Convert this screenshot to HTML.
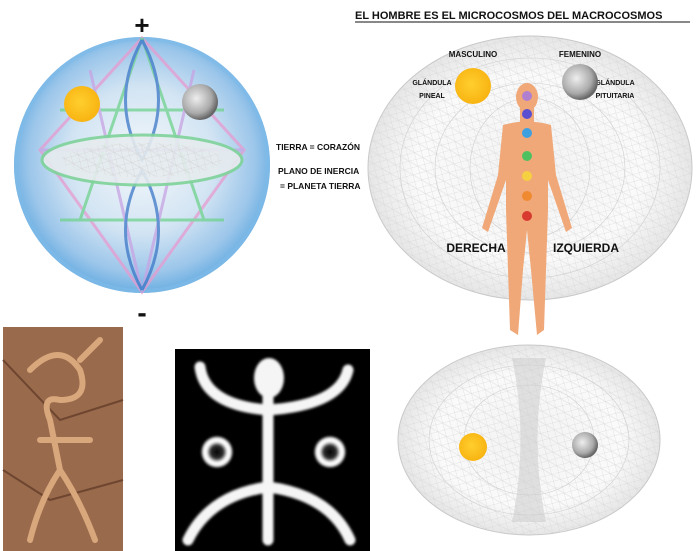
<!DOCTYPE html>
<html><head><meta charset="utf-8"><style>
body{margin:0;background:#fff;width:697px;height:551px;overflow:hidden;font-family:"Liberation Sans",sans-serif}
svg{display:block}
text{font-family:"Liberation Sans",sans-serif;font-weight:bold}
</style></head><body>
<svg width="697" height="551" viewBox="0 0 697 551">
<defs>
<radialGradient id="sph" cx="50%" cy="48%" r="52%">
<stop offset="0" stop-color="#f4f8fb"/><stop offset="0.55" stop-color="#d2e4f3"/><stop offset="0.85" stop-color="#9cc6ea"/><stop offset="1" stop-color="#6aaee2"/></radialGradient>
<radialGradient id="sun" cx="45%" cy="45%" r="55%"><stop offset="0" stop-color="#ffcf2e"/><stop offset="1" stop-color="#f8b412"/></radialGradient>
<radialGradient id="moon" cx="40%" cy="40%" r="60%"><stop offset="0" stop-color="#eee"/><stop offset="0.7" stop-color="#aaa"/><stop offset="1" stop-color="#666"/></radialGradient>
<radialGradient id="tor" cx="50%" cy="50%" r="50%"><stop offset="0" stop-color="#f2f2f2"/><stop offset="0.7" stop-color="#fafafa"/><stop offset="1" stop-color="#e6e6e6"/></radialGradient>
<radialGradient id="ring" cx="50%" cy="50%" r="50%"><stop offset="0" stop-color="#000"/><stop offset="0.45" stop-color="#333"/><stop offset="0.65" stop-color="#fff"/><stop offset="0.85" stop-color="#fff"/><stop offset="1" stop-color="#000"/></radialGradient>
<filter id="bl"><feGaussianBlur stdDeviation="1.2"/></filter>
<pattern id="mesh" width="10" height="10" patternUnits="userSpaceOnUse" patternTransform="rotate(30)">
<path d="M0 0 L10 10 M10 0 L0 10 M0 5 H10" stroke="#d4d4d4" stroke-width="0.5" fill="none"/></pattern>
</defs>
<text x="355" y="19" font-size="11" fill="#111">EL HOMBRE ES EL MICROCOSMOS DEL MACROCOSMOS</text>
<line x1="355" y1="22" x2="690" y2="22" stroke="#111" stroke-width="1"/>
<text x="142" y="34" font-size="26" text-anchor="middle" fill="#111">+</text>
<text x="142" y="322" font-size="28" text-anchor="middle" fill="#111">-</text>
<!-- left sphere -->
<circle cx="142" cy="165" r="128" fill="url(#sph)"/>
<circle cx="142" cy="165" r="126" fill="none" stroke="#7fbbe8" stroke-width="4" opacity="0.7"/>
<g fill="none" stroke-width="3" opacity="0.75">
<path d="M142 38 L40 150 L142 292 L244 150 Z" stroke="#e79bd0"/>
<path d="M142 38 L80 220 M142 38 L204 220 M60 110 L224 110 M60 220 L224 220" stroke="#6fd28d"/>
<path d="M40 150 L244 150 M90 70 L142 292 L194 70" stroke="#c7a3e3"/>
<path d="M142 40 C120 80 120 120 142 160 C164 120 164 80 142 40" stroke="#3c77c7"/>
<path d="M142 290 C120 250 120 210 142 170 C164 210 164 250 142 290" stroke="#3c77c7"/>
</g>
<ellipse cx="142" cy="160" rx="100" ry="25" fill="#e6ecef" stroke="#7fd39a" stroke-width="3" opacity="0.9"/>
<ellipse cx="142" cy="160" rx="80" ry="17" fill="url(#mesh)"/>
<circle cx="82" cy="104" r="18" fill="url(#sun)"/>
<circle cx="200" cy="102" r="18" fill="url(#moon)"/>
<text x="276" y="150" font-size="8.5" fill="#111">TIERRA = CORAZÓN</text>
<text x="278" y="174" font-size="8.5" fill="#111">PLANO DE INERCIA</text>
<text x="280" y="189" font-size="8.5" fill="#111">= PLANETA TIERRA</text>
<!-- right torus -->
<ellipse cx="530" cy="168" rx="162" ry="132" fill="url(#tor)" stroke="#c8c8c8" stroke-width="1"/>
<ellipse cx="530" cy="168" rx="162" ry="132" fill="url(#mesh)" opacity="0.8"/>
<g stroke="#cfcfcf" fill="none" stroke-width="0.6">
<ellipse cx="530" cy="168" rx="130" ry="110"/><ellipse cx="530" cy="168" rx="95" ry="85"/>
<ellipse cx="530" cy="168" rx="60" ry="70"/>
</g>
<text x="473" y="57" font-size="8" text-anchor="middle" fill="#111">MASCULINO</text>
<text x="580" y="57" font-size="8" text-anchor="middle" fill="#111">FEMENINO</text>
<text x="432" y="85" font-size="7" text-anchor="middle" fill="#111">GLÁNDULA</text>
<text x="432" y="98" font-size="7" text-anchor="middle" fill="#111">PINEAL</text>
<text x="615" y="85" font-size="7" text-anchor="middle" fill="#111">GLÁNDULA</text>
<text x="615" y="98" font-size="7" text-anchor="middle" fill="#111">PITUITARIA</text>
<circle cx="473" cy="86" r="18" fill="url(#sun)"/>
<circle cx="580" cy="82" r="18" fill="url(#moon)"/>
<!-- human -->
<g fill="#f0a878">
<ellipse cx="527" cy="97" rx="11" ry="14"/>
<rect x="520" y="108" width="14" height="14"/>
<path d="M503 125 Q527 118 551 125 L556 175 L572 228 L566 232 L548 180 L548 210 L546 270 L544 330 L537 335 L531 270 L527 230 L523 270 L518 335 L510 330 L508 270 L506 210 L506 180 L488 232 L482 228 L498 175 Z"/>
</g>
<g>
<circle cx="527" cy="96" r="5" fill="#b07fd0"/><circle cx="527" cy="114" r="5" fill="#5a4fd0"/>
<circle cx="527" cy="133" r="5" fill="#3fa0e0"/><circle cx="527" cy="156" r="5" fill="#4fc060"/>
<circle cx="527" cy="176" r="5" fill="#f5d040"/><circle cx="527" cy="196" r="5" fill="#f08a30"/>
<circle cx="527" cy="216" r="5" fill="#d83a30"/>
</g>
<text x="476" y="252" font-size="12" text-anchor="middle" fill="#111">DERECHA</text>
<text x="586" y="252" font-size="12" text-anchor="middle" fill="#111">IZQUIERDA</text>
<!-- bottom torus -->
<ellipse cx="529" cy="440" rx="131" ry="95" fill="url(#tor)" stroke="#c8c8c8"/>
<ellipse cx="529" cy="440" rx="131" ry="95" fill="url(#mesh)" opacity="0.8"/>
<g stroke="#cfcfcf" fill="none" stroke-width="0.6">
<ellipse cx="529" cy="440" rx="100" ry="75"/><ellipse cx="529" cy="440" rx="65" ry="55"/>
</g>
<path d="M512 358 Q529 440 512 522 L546 522 Q529 440 546 358 Z" fill="#ccc" opacity="0.55"/>
<circle cx="473" cy="447" r="14" fill="url(#sun)"/>
<circle cx="585" cy="445" r="13" fill="url(#moon)"/>
<!-- rock -->
<rect x="3" y="327" width="120" height="224" fill="#9a6a4c"/>
<path d="M3 360 L60 420 L123 400 M3 470 L50 500 L123 480" stroke="#6e4630" stroke-width="2" fill="none"/>
<g stroke="#d9a77c" stroke-width="6" fill="none" stroke-linecap="round">
<path d="M30 370 Q60 340 80 370 Q90 400 60 400 Q40 395 50 420 L60 470 M40 440 H90 M60 470 Q40 500 30 540 M60 470 Q80 500 95 540 M80 360 L100 340"/>
</g>
<!-- black square -->
<rect x="175" y="349" width="195" height="202" fill="#000"/>
<g filter="url(#bl)">
<g stroke="#f5f5f5" stroke-width="11" fill="none" stroke-linecap="round">
<path d="M200 367 Q205 405 268 410 Q340 405 348 370"/>
<path d="M268 395 V540"/>
<path d="M188 540 Q210 495 268 487 Q330 495 350 540"/>
</g>
<ellipse cx="269" cy="378" rx="15" ry="20" fill="#f5f5f5"/>
<circle cx="217" cy="452" r="16" fill="url(#ring)"/>
<circle cx="330" cy="452" r="16" fill="url(#ring)"/>
</g>
</svg>
</body></html>
